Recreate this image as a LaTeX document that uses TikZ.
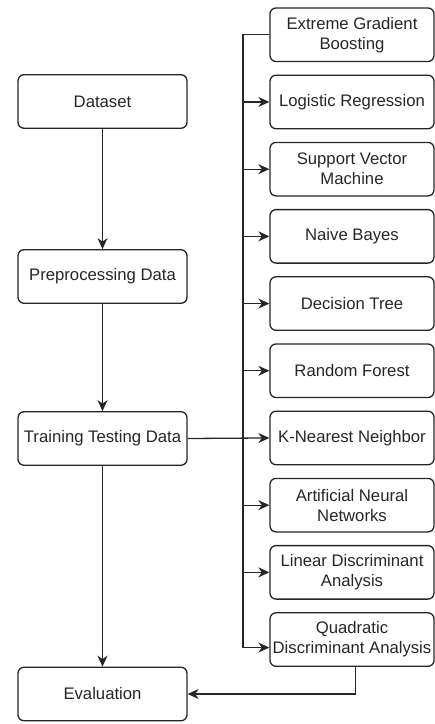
\documentclass[tikz,border=0pt]{standalone}
\usepackage{fontspec}
\setmainfont{Liberation Sans}
\usetikzlibrary{arrows.meta}
\begin{document}
\begin{tikzpicture}[x=1pt,y=-1pt,
  box/.style={draw=black!85, line width=1.3pt, rounded corners=6pt, align=center,
    inner sep=0pt, text=black!85, font=\fontsize{16.7}{20}\selectfont},
  lbox/.style={box, minimum width=169pt, minimum height=53.5pt},
  rbox/.style={box, minimum width=164pt, minimum height=53.5pt},
  conn/.style={draw=black!85, line width=1.3pt},
  arr/.style={conn, -{Stealth[length=11pt,width=10pt,inset=3.5pt]}}]
\useasboundingbox (0,0) rectangle (435,724);
% left column
\node[lbox] (ds) at (102.5,101.5) {Dataset};
\node[lbox] (pp) at (102.5,276.5) {Preprocessing Data};
\node[lbox] (tt) at (102.5,438.5) {Training Testing Data};
\node[lbox] (ev) at (102.5,694) {Evaluation};
% right column
\node[rbox] (m0) at (352,34.75) {Extreme Gradient\\Boosting};
\node[rbox] (m1) at (352,101.95) {Logistic Regression};
\node[rbox] (m2) at (352,169.15) {Support Vector\\Machine};
\node[rbox] (m3) at (352,236.35) {Naive Bayes};
\node[rbox] (m4) at (352,303.55) {Decision Tree};
\node[rbox] (m5) at (352,370.75) {Random Forest};
\node[rbox] (m6) at (352,437.95) {K-Nearest Neighbor};
\node[rbox] (m7) at (352,505.15) {Artificial Neural\\Networks};
\node[rbox] (m8) at (352,572.35) {Linear Discriminant\\Analysis};
\node[rbox] (m9) at (352,639.55) {Quadratic\\Discriminant Analysis};
\coordinate (bus) at (243,0);
\coordinate (qin) at ([yshift=-8pt]m9.west);
\coordinate (busend) at (bus |- qin);
% main flow
\draw[arr] (ds) -- (pp);
\draw[arr] (pp) -- (tt);
\draw[arr] (tt) -- (ev);
\draw[arr] (tt.east) -- (m6.west);
% bus
\draw[conn] (m0.west) -- (bus |- m0.west) -- (busend);
\draw[arr] (busend) -- (qin);
\foreach \i in {1,2,3,4,5,7,8}{
  \draw[arr] (bus |- m\i.west) -- (m\i.west);
}
\draw[arr] ([xshift=3.5pt]m9.south) |- (ev.east);
\end{tikzpicture}
\end{document}
